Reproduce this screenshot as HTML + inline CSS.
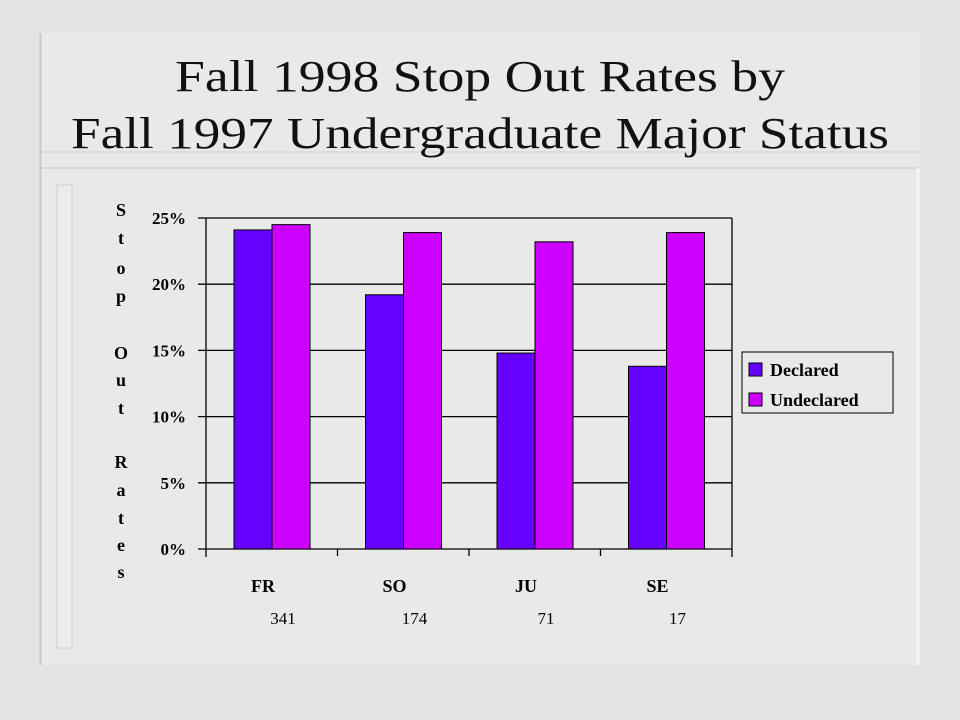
<!DOCTYPE html>
<html><head><meta charset="utf-8"><style>
body{margin:0;background:#e4e4e2;}
svg{display:block;font-family:"Liberation Serif",serif;}
</style></head><body>
<svg width="960" height="720" viewBox="0 0 960 720">
<rect x="0" y="0" width="960" height="720" fill="#e4e4e2"/>
<rect x="40" y="33" width="880" height="632" fill="#e9e9e7"/>
<line x1="40.5" y1="33" x2="40.5" y2="665" stroke="#c8c8c8" stroke-width="2"/>
<line x1="40" y1="152" x2="920" y2="152" stroke="#d0d0d0" stroke-width="1"/>
<line x1="40" y1="168" x2="918" y2="168" stroke="#c8c8c8" stroke-width="1"/>
<line x1="918" y1="168" x2="918" y2="665" stroke="#f4f4f4" stroke-width="3"/>
<rect x="57" y="185" width="15" height="463" fill="#ececea" stroke="#cfcfcf"/>
<text x="480" y="91" text-anchor="middle" font-size="44" textLength="610" lengthAdjust="spacingAndGlyphs" fill="#111">Fall 1998 Stop Out Rates by</text>
<text x="480" y="148" text-anchor="middle" font-size="44" textLength="818" lengthAdjust="spacingAndGlyphs" fill="#111">Fall 1997 Undergraduate Major Status</text>
<g id="chart"></g>
</svg>
<script>
const categories=["FR","SO","JU","SE"];
const counts=["341","174","71","17"];
const declared=[24.1,19.2,14.8,13.8];
const undeclared=[24.5,23.9,23.2,23.9];
const yTicks=[0,5,10,15,20,25];
const seriesNames=["Declared","Undeclared"];
const colors=["#6600ff","#cc00ff"];
const ns="http://www.w3.org/2000/svg";
const g=document.getElementById('chart');
const X0=206,X1=732,Y0=549,Y1=218,YMAX=25;
const y=v=>Y0-(v/YMAX)*(Y0-Y1);
const gw=(X1-X0)/categories.length;
function mk(t,a,p){const e=document.createElementNS(ns,t);for(const k in a)e.setAttribute(k,a[k]);(p||g).appendChild(e);return e;}
yTicks.forEach(t=>{
  const l=mk('line',{x1:X0-8,x2:X1,y1:y(t),y2:y(t),stroke:'#000','stroke-width':1.3});
  
  
  const tx=mk('text',{x:186,y:y(t)+6,'text-anchor':'end','font-size':17,'font-weight':'bold',fill:'#000'});
  tx.textContent=t+'%';
  
  
});
const ax=mk('line',{x1:X0,x2:X0,y1:Y1,y2:Y0+8,stroke:'#000','stroke-width':1.3});


const rx=mk('line',{x1:X1,x2:X1,y1:Y1,y2:Y0+8,stroke:'#000','stroke-width':1.3});


for(let i=1;i<categories.length;i++){
  const tk=mk('line',{x1:X0+gw*i,x2:X0+gw*i,y1:Y0,y2:Y0+7,stroke:'#000','stroke-width':1.3});
  
  
}
const bw=38,off=28;
categories.forEach((c,i)=>{
  [declared,undeclared].forEach((s,j)=>{
    const r=mk('rect',{x:X0+gw*i+off+j*bw,y:y(s[i]),width:bw,height:Y0-y(s[i]),fill:colors[j],stroke:'#000','stroke-width':1});
    
    
  });
  const cx=X0+gw*i+off+bw;
  const t=mk('text',{x:cx-9,y:592,'text-anchor':'middle','font-size':18,'font-weight':'bold',fill:'#000'});
  t.textContent=c;
  
  
  const n=mk('text',{x:cx+11,y:624,'text-anchor':'middle','font-size':17,fill:'#000'});
  n.textContent=counts[i];
  
  
});
const letters=[["S",216],["t",244],["o",274],["p",302],["O",359],["u",386],["t",414],["R",468],["a",496],["t",524],["e",551],["s",578]];
letters.forEach(([ch,yy])=>{
  const t=mk('text',{x:121,y:yy,'text-anchor':'middle','font-size':18,'font-weight':'bold',fill:'#000'});
  t.textContent=ch;
  
  
});
const lb=mk('rect',{x:742,y:352,width:151,height:61,fill:'none',stroke:'#000','stroke-width':1});


seriesNames.forEach((nm,j)=>{
  const sw=mk('rect',{x:749,y:363+j*30,width:13,height:13,fill:colors[j],stroke:'#000','stroke-width':1});
  
  
  const t=mk('text',{x:770,y:376+j*30,'font-size':18,'font-weight':'bold',fill:'#000'});
  t.textContent=nm;
  
  
});
</script>
</body></html>
